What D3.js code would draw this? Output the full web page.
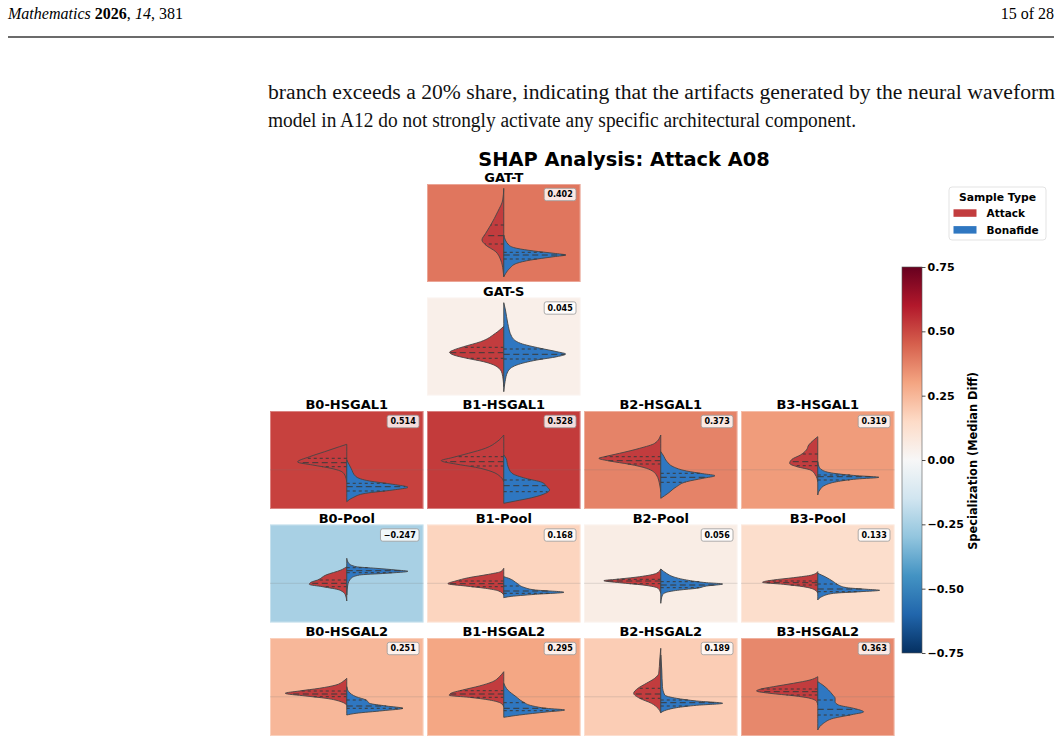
<!DOCTYPE html>
<html>
<head>
<meta charset="utf-8">
<script src="https://cdn.jsdelivr.net/npm/d3@7"></script>
<style>
  body { margin: 0; background: #fff; }
  svg { display: block; }
</style>
</head>
<body>
<div id="chart"></div>
<script>

// panels of the grid, row/col position and specialization (median diff)
var panelNames = ["GAT-T","GAT-S","B0-HSGAL1","B1-HSGAL1","B2-HSGAL1","B3-HSGAL1",
                  "B0-Pool","B1-Pool","B2-Pool","B3-Pool",
                  "B0-HSGAL2","B1-HSGAL2","B2-HSGAL2","B3-HSGAL2"];
var panelRows = [0,1,2,2,2,2,3,3,3,3,4,4,4,4];
var panelCols = [1,1,0,1,2,3,0,1,2,3,0,1,2,3];
var specialization = [0.402,0.045,0.514,0.528,0.373,0.319,-0.247,0.168,0.056,0.133,0.251,0.295,0.189,0.363];
// the GAT panels show no zero reference line
var showZeroLine = [false,false,true,true,true,true,true,true,true,true,true,true,true,true];

// density profiles: [shap value, half width]
var attackDensity = [
  [[0.545,0],[0.428,0.01],[0.311,0.06],[0.178,0.13],[0.095,0.18],[0.028,0.217],[-0.022,0.18],[-0.089,0.08],[-0.172,0.03],[-0.272,0.007],[-0.339,0]],
  [[0.30,0],[0.23,0.083],[0.146,0.23],[0.096,0.40],[0.063,0.50],[0.04,0.54],[0.013,0.50],[-0.02,0.367],[-0.054,0.20],[-0.104,0.067],[-0.17,0.017],[-0.304,0]],
  [[0.255,0],[0.231,0.073],[0.181,0.22],[0.131,0.37],[0.078,0.49],[0.048,0.34],[0.015,0.157],[-0.025,0.04],[-0.085,0.007],[-0.119,0]],
  [[0.348,0],[0.281,0.067],[0.215,0.183],[0.165,0.35],[0.121,0.517],[0.091,0.623],[0.058,0.48],[0.025,0.28],[-0.019,0.117],[-0.069,0.033],[-0.119,0]],
  [[0.348,0],[0.265,0.06],[0.215,0.21],[0.165,0.41],[0.131,0.56],[0.115,0.617],[0.088,0.51],[0.055,0.31],[0.015,0.143],[-0.052,0.043],[-0.152,0.01],[-0.219,0]],
  [[0.331,0],[0.298,0.04],[0.248,0.09],[0.198,0.113],[0.148,0.173],[0.105,0.257],[0.065,0.28],[0.031,0.207],[-0.002,0.073],[-0.052,0.023],[-0.119,0]],
  [[0.166,0],[0.133,0.057],[0.083,0.207],[0.033,0.29],[0.01,0.357],[-0.01,0.373],[-0.034,0.24],[-0.067,0.073],[-0.117,0.013],[-0.177,0]],
  [[0.15,0],[0.116,0.033],[0.09,0.15],[0.056,0.35],[0.023,0.48],[-0.004,0.557],[-0.027,0.38],[-0.05,0.183],[-0.077,0.05],[-0.117,0]],
  [[0.143,0],[0.10,0.043],[0.066,0.21],[0.043,0.41],[0.026,0.567],[0.006,0.41],[-0.017,0.177],[-0.05,0.027],[-0.10,0]],
  [[0.116,0],[0.083,0.06],[0.056,0.243],[0.033,0.443],[0.01,0.55],[-0.01,0.343],[-0.034,0.143],[-0.067,0.027],[-0.10,0]],
  [[0.185,0],[0.151,0.04],[0.118,0.107],[0.085,0.273],[0.058,0.473],[0.035,0.613],[0.008,0.407],[-0.015,0.207],[-0.049,0.057],[-0.082,0]],
  [[0.251,0],[0.201,0.043],[0.151,0.11],[0.108,0.243],[0.068,0.41],[0.035,0.527],[0.015,0.543],[-0.005,0.343],[-0.032,0.143],[-0.065,0.027],[-0.099,0]],
  [[0.485,0],[0.368,0.01],[0.235,0.02],[0.185,0.06],[0.135,0.143],[0.085,0.227],[0.035,0.27],[-0.015,0.21],[-0.065,0.093],[-0.115,0.027],[-0.159,0]],
  [[0.201,0],[0.168,0.077],[0.135,0.243],[0.101,0.443],[0.075,0.577],[0.058,0.61],[0.035,0.477],[0.011,0.243],[-0.015,0.077],[-0.049,0.01],[-0.082,0]]
];
var bonafideDensity = [
  [[0.078,0],[-0.022,0.05],[-0.055,0.13],[-0.082,0.30],[-0.105,0.50],[-0.122,0.617],[-0.139,0.50],[-0.172,0.27],[-0.205,0.13],[-0.255,0.06],[-0.305,0.02],[-0.339,0]],
  [[0.536,0],[0.463,0.017],[0.33,0.04],[0.196,0.08],[0.13,0.167],[0.08,0.367],[0.046,0.53],[0.023,0.617],[-0.004,0.53],[-0.037,0.33],[-0.087,0.13],[-0.154,0.04],[-0.254,0.013],[-0.354,0]],
  [[0.098,0],[0.015,0.043],[-0.069,0.093],[-0.112,0.227],[-0.145,0.46],[-0.175,0.61],[-0.202,0.46],[-0.235,0.19],[-0.279,0.06],[-0.319,0]],
  [[0.148,0],[0.115,0.023],[0.031,0.043],[-0.035,0.083],[-0.085,0.217],[-0.125,0.38],[-0.169,0.43],[-0.202,0.457],[-0.235,0.417],[-0.279,0.28],[-0.312,0.117],[-0.335,0]],
  [[0.181,0],[0.148,0.023],[0.081,0.063],[0.031,0.123],[-0.012,0.257],[-0.039,0.42],[-0.059,0.54],[-0.085,0.42],[-0.119,0.257],[-0.169,0.157],[-0.235,0.073],[-0.285,0]],
  [[0.081,0],[0.031,0.013],[-0.002,0.043],[-0.035,0.16],[-0.059,0.39],[-0.075,0.61],[-0.092,0.39],[-0.119,0.19],[-0.152,0.077],[-0.202,0.02],[-0.252,0]],
  [[0.25,0],[0.20,0.02],[0.166,0.093],[0.15,0.29],[0.133,0.49],[0.12,0.61],[0.10,0.39],[0.083,0.127],[0.05,0.043],[-0.017,0.01],[-0.117,0]],
  [[0.066,0],[0.05,0.05],[0,0.133],[-0.04,0.20],[-0.067,0.317],[-0.09,0.60],[-0.11,0.317],[-0.134,0.05],[-0.144,0]],
  [[0.143,0],[0.10,0.057],[0.066,0.123],[0.033,0.257],[0.006,0.457],[-0.007,0.617],[-0.027,0.457],[-0.05,0.357],[-0.067,0.19],[-0.09,0.057],[-0.117,0.017],[-0.20,0]],
  [[0.10,0],[0.066,0.073],[0.016,0.157],[-0.017,0.207],[-0.044,0.29],[-0.06,0.49],[-0.07,0.617],[-0.084,0.423],[-0.10,0.157],[-0.134,0.04],[-0.167,0]],
  [[0.101,0],[0.051,0.02],[0.001,0.093],[-0.032,0.193],[-0.065,0.227],[-0.092,0.393],[-0.115,0.56],[-0.139,0.36],[-0.165,0.093],[-0.182,0]],
  [[0.135,0],[0.068,0.04],[0.001,0.123],[-0.049,0.19],[-0.092,0.29],[-0.115,0.423],[-0.132,0.607],[-0.152,0.423],[-0.182,0.157],[-0.205,0]],
  [[0.418,0],[0.268,0.01],[0.101,0.017],[0.018,0.04],[-0.015,0.157],[-0.042,0.357],[-0.065,0.617],[-0.085,0.357],[-0.109,0.157],[-0.132,0.057],[-0.159,0]],
  [[0.151,0],[0.118,0.05],[0.068,0.107],[0.018,0.15],[-0.015,0.173],[-0.049,0.173],[-0.082,0.207],[-0.115,0.357],[-0.151,0.457],[-0.175,0.357],[-0.215,0.157],[-0.265,0.057],[-0.332,0]]
];
// quartiles [q1, median, q3]
var attackQuartiles = [
  [-0.012,0.071,0.178],[-0.02,0.036,0.09],[0.031,0.071,0.115],[0.038,0.081,0.131],[0.058,0.091,0.131],
  [0.041,0.081,0.158],[-0.034,0,0.033],[-0.034,-0.004,0.023],[-0.004,0.023,0.04],[-0.017,0.006,0.023],
  [0.001,0.028,0.058],[-0.005,0.028,0.061],[-0.015,0.028,0.085],[0.018,0.051,0.078]
];
var bonafideQuartiles = [
  [-0.162,-0.122,-0.095],[-0.027,0.02,0.073],[-0.212,-0.169,-0.135],[-0.219,-0.159,-0.102],[-0.125,-0.075,-0.035],
  [-0.102,-0.069,-0.052],[0.106,0.126,0.156],[-0.10,-0.077,-0.027],[-0.044,-0.017,0.016],[-0.084,-0.057,-0.007],
  [-0.115,-0.092,-0.032],[-0.139,-0.115,-0.059],[-0.092,-0.059,-0.032],[-0.182,-0.125,-0.032]
];
var cbarTicks = [0.75, 0.5, 0.25, 0, -0.25, -0.5, -0.75];
var legendLabels = ["Attack", "Bonafide"];

var attackColor = "#c23c3e", bonafideColor = "#2f77c1";
var W = 1061, H = 743;

var svg = d3.select("#chart").append("svg")
  .attr("width", W).attr("height", H)
  .style("background", "#fff");

// ---- page header and body text ----
var hdr = svg.append("text")
  .attr("x", 8).attr("y", 19)
  .attr("font-family", "Liberation Serif").attr("font-size", 16)
  .attr("textLength", 175).attr("lengthAdjust", "spacingAndGlyphs");
hdr.append("tspan").attr("font-style", "italic").text("Mathematics ");
hdr.append("tspan").attr("font-weight", "bold").text("2026");
hdr.append("tspan").text(", ");
hdr.append("tspan").attr("font-style", "italic").text("14");
hdr.append("tspan").text(", 381");

svg.append("text")
  .attr("x", 1054).attr("y", 19).attr("text-anchor", "end")
  .attr("font-family", "Liberation Serif").attr("font-size", 16)
  .text("15 of 28");

svg.append("line")
  .attr("x1", 8).attr("x2", 1054).attr("y1", 37).attr("y2", 37)
  .attr("stroke", "#3a3a3a").attr("stroke-width", 1.6);

var bodyLines = [
  {t: "branch exceeds a 20% share, indicating that the artifacts generated by the neural waveform", len: 787, y: 99},
  {t: "model in A12 do not strongly activate any specific architectural component.", len: 588, y: 127}
];
svg.selectAll(".body").data(bodyLines).enter().append("text")
  .attr("x", 268).attr("y", function(d){ return d.y; })
  .attr("font-family", "Liberation Serif").attr("font-size", 20)
  .attr("fill", "#111")
  .attr("textLength", function(d){ return d.len; })
  .attr("lengthAdjust", "spacingAndGlyphs")
  .text(function(d){ return d.t; });

// ---- colour map (matplotlib RdBu_r, linear segments) ----
var rdbu = d3.schemeRdBu[11].slice().reverse();
var cmap = d3.scaleLinear()
  .domain(d3.range(11).map(function(i){ return -0.75 + i * 0.15; }))
  .range(rdbu)
  .interpolate(d3.interpolateRgb)
  .clamp(true);

// ---- title ----
svg.append("text")
  .attr("x", 624).attr("y", 165.5).attr("text-anchor", "middle")
  .attr("font-family", "DejaVu Sans").attr("font-weight", "bold").attr("font-size", 19.4)
  .text("SHAP Analysis: Attack A08");

// ---- panels ----
var gx0 = 270, colStep = 157, gy0 = 184, rowStep = 113.5, pw = 153.5, ph = 98;

function widthAt(profile, v) {
  for (var i = 0; i < profile.length - 1; i++) {
    var a = profile[i], b = profile[i + 1];
    if ((v <= a[0] && v >= b[0])) {
      var t = (a[0] - v) / (a[0] - b[0]);
      return a[1] + t * (b[1] - a[1]);
    }
  }
  return 0;
}

panelNames.forEach(function(name, i) {
  var px = gx0 + panelCols[i] * colStep;
  var py = gy0 + panelRows[i] * rowStep;
  var xs = d3.scaleLinear().domain([-0.765, 0.765]).range([px, px + pw]);
  var ys = d3.scaleLinear().domain([-0.392, 0.588]).range([py + ph, py]);
  var g = svg.append("g");

  g.append("rect")
    .attr("x", px).attr("y", py).attr("width", pw).attr("height", ph)
    .attr("fill", cmap(specialization[i]));
  g.append("rect")
    .attr("x", px + 0.5).attr("y", py + 0.5).attr("width", pw - 1).attr("height", ph - 1)
    .attr("fill", "none").attr("stroke", "#fff").attr("stroke-opacity", 0.35).attr("stroke-width", 1);

  // zero line
  if (showZeroLine[i]) {
    g.append("line")
      .attr("x1", px).attr("x2", px + pw).attr("y1", ys(0)).attr("y2", ys(0))
      .attr("stroke", "#777").attr("stroke-opacity", 0.28).attr("stroke-width", 0.8);
  }

  var halves = [
    {dens: attackDensity[i], q: attackQuartiles[i], side: -1, color: attackColor},
    {dens: bonafideDensity[i], q: bonafideQuartiles[i], side: 1, color: bonafideColor}
  ];
  halves.forEach(function(h) {
    var area = d3.area()
      .curve(d3.curveMonotoneY)
      .y(function(d){ return ys(d[0]); })
      .x0(xs(0))
      .x1(function(d){ return xs(h.side * d[1]); });
    g.append("path")
      .attr("d", area(h.dens))
      .attr("fill", h.color)
      .attr("stroke", "#454545").attr("stroke-width", 0.9)
      .attr("stroke-linejoin", "round");
    h.q.forEach(function(q, k) {
      var w = widthAt(h.dens, q);
      g.append("line")
        .attr("x1", xs(0)).attr("x2", xs(h.side * w))
        .attr("y1", ys(q)).attr("y2", ys(q))
        .attr("stroke", "#3a3a3a").attr("stroke-width", 1)
        .attr("stroke-dasharray", k == 1 ? "6,3.5" : "3,3");
    });
  });

  // panel title
  g.append("text")
    .attr("x", px + pw / 2).attr("y", py - 2).attr("text-anchor", "middle")
    .attr("font-family", "DejaVu Sans").attr("font-weight", "bold").attr("font-size", 13)
    .text(name);

  // value badge
  var badge = g.append("g");
  var bt = badge.append("text")
    .attr("font-family", "DejaVu Sans").attr("font-weight", "bold").attr("font-size", 8)
    .attr("text-anchor", "middle")
    .text(d3.format(".3f")(specialization[i]));
  var tw = bt.node().getComputedTextLength();
  var bw = tw + 6.5, bh = 12.4;
  var bx = px + pw - 4.5 - bw, by = py + 4.3;
  badge.insert("rect", "text")
    .attr("x", bx).attr("y", by).attr("width", bw).attr("height", bh)
    .attr("rx", 2.2)
    .attr("fill", "#fff").attr("fill-opacity", 0.82)
    .attr("stroke", "#999").attr("stroke-width", 0.8);
  bt.attr("x", bx + bw / 2).attr("y", by + 9.1);
});

// ---- colour bar ----
var cbX = 902, cbY = 267, cbW = 20, cbH = 386;
var cbScale = d3.scaleLinear().domain([-0.75, 0.75]).range([cbY + cbH, cbY]);
var grad = svg.append("defs").append("linearGradient")
  .attr("id", "cbgrad").attr("x1", 0).attr("y1", 1).attr("x2", 0).attr("y2", 0);
grad.selectAll("stop").data(rdbu).enter().append("stop")
  .attr("offset", function(d, i){ return i / 10; })
  .attr("stop-color", function(d){ return d; });
svg.append("rect")
  .attr("x", cbX).attr("y", cbY).attr("width", cbW).attr("height", cbH)
  .attr("fill", "url(#cbgrad)")
  .attr("stroke", "#555").attr("stroke-width", 0.6);

var cbAxis = svg.append("g")
  .attr("transform", "translate(" + (cbX + cbW) + ",0)")
  .call(d3.axisRight(cbScale).tickValues(cbarTicks).tickFormat(d3.format(".2f")).tickSize(3.5).tickPadding(2));
cbAxis.select(".domain").remove();
cbAxis.selectAll("text")
  .attr("font-family", "DejaVu Sans").attr("font-weight", "bold").attr("font-size", 11)
  .attr("fill", "#000");
cbAxis.selectAll("line").attr("stroke", "#222").attr("stroke-width", 0.8);

svg.append("text")
  .attr("transform", "translate(977,461) rotate(-90)")
  .attr("text-anchor", "middle")
  .attr("font-family", "DejaVu Sans").attr("font-weight", "bold").attr("font-size", 11.4)
  .text("Specialization (Median Diff)");

// ---- legend ----
var lg = svg.append("g").attr("transform", "translate(949,187)");
lg.append("rect")
  .attr("width", 97).attr("height", 53).attr("rx", 3)
  .attr("fill", "#fff").attr("fill-opacity", 0.8)
  .attr("stroke", "#dcdcdc").attr("stroke-width", 0.8);
lg.append("text")
  .attr("x", 48.5).attr("y", 13.5).attr("text-anchor", "middle")
  .attr("font-family", "DejaVu Sans").attr("font-weight", "bold").attr("font-size", 10.8)
  .text("Sample Type");
var legendColors = [attackColor, bonafideColor];
legendLabels.forEach(function(lab, k) {
  lg.append("rect")
    .attr("x", 4.5).attr("y", 22.3 + k * 16.8).attr("width", 23).attr("height", 7.5)
    .attr("fill", legendColors[k]);
  lg.append("text")
    .attr("x", 37.5).attr("y", 29.8 + k * 16.8)
    .attr("font-family", "DejaVu Sans").attr("font-weight", "bold").attr("font-size", 10.5)
    .text(lab);
});

</script>
</body>
</html>
